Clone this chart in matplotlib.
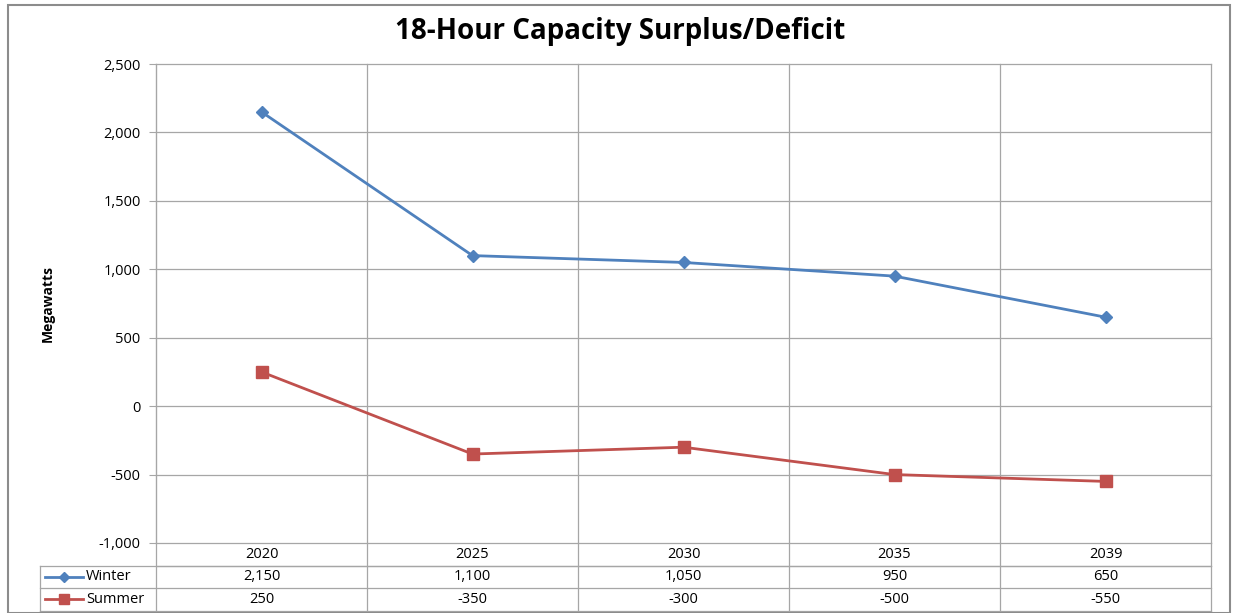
import matplotlib

matplotlib.use("Agg")

import matplotlib.pyplot as plt
import matplotlib.transforms as mtransforms
from matplotlib.lines import Line2D
from matplotlib.patches import Rectangle

years = ["2020", "2025", "2030", "2035", "2039"]
winter = [2150, 1100, 1050, 950, 650]
summer = [250, -350, -300, -500, -550]
y_ticks = [-1000, -500, 0, 500, 1000, 1500, 2000, 2500]

WINTER_COLOR = "#4F81BD"
SUMMER_COLOR = "#C0504D"
GRID_COLOR = "#A6A6A6"
FS = 10.5

plt.rcParams["font.family"] = ["Open Sans", "DejaVu Sans"]

fig = plt.figure(figsize=(12.33, 6.13), dpi=100)
ax = fig.add_axes([156 / 1233, 1 - 543 / 613, (1211 - 156) / 1233, (543 - 64) / 613])

xs = [i + 0.5 for i in range(len(years))]
ax.plot(xs, winter, color=WINTER_COLOR, lw=2, marker="D", ms=6.5, zorder=3)
ax.plot(xs, summer, color=SUMMER_COLOR, lw=2, marker="s", ms=9, zorder=3)

ax.set_xlim(0, len(years))
ax.set_ylim(-1000, 2500)
ax.set_yticks(y_ticks)
ax.set_yticklabels([f"{v:,}" for v in y_ticks], fontsize=FS)
ax.tick_params(axis="y", length=5, color=GRID_COLOR, pad=6)
ax.set_xticks(range(len(years) + 1))
ax.tick_params(axis="x", length=0, labelbottom=False)
ax.grid(True, color=GRID_COLOR, lw=0.9)
for gl in ax.get_xgridlines() + ax.get_ygridlines():
    gl.set_clip_on(False)
for side in ["top", "right", "bottom"]:
    ax.spines[side].set_visible(False)
ax.spines["left"].set_color(GRID_COLOR)
ax.set_axisbelow(True)

ax.set_ylabel("Megawatts", fontsize=10, fontweight="bold")
ax.yaxis.set_label_coords(-0.096, 0.5)

# data table under the plot
trans = mtransforms.blended_transform_factory(ax.transData, ax.transAxes)
row_h = 22.5 / 479
left_x = (40 - 156) / 211
n = len(years)
line_kw = dict(color=GRID_COLOR, lw=0.9, transform=trans, clip_on=False)

ax.add_line(Line2D([0, n], [-row_h, -row_h], **line_kw))
for k in (1, 2, 3):
    ax.add_line(Line2D([left_x, n], [-row_h * k, -row_h * k], **line_kw))
ax.add_line(Line2D([left_x, left_x], [-row_h, -row_h * 3], **line_kw))
for i in range(n + 1):
    ax.add_line(Line2D([i, i], [0, -row_h * 3], **line_kw))

for i, yr in enumerate(years):
    ax.text(i + 0.5, -row_h * 0.5, yr, transform=trans, ha="center", va="center", fontsize=FS)
    ax.text(i + 0.5, -row_h * 1.5, f"{winter[i]:,}", transform=trans, ha="center", va="center", fontsize=FS)
    ax.text(i + 0.5, -row_h * 2.5, f"{summer[i]:,}", transform=trans, ha="center", va="center", fontsize=FS)

key_x0 = (45 - 156) / 211
key_x1 = (83 - 156) / 211
for k, (name, color, marker, ms) in enumerate(
    [("Winter", WINTER_COLOR, "D", 5), ("Summer", SUMMER_COLOR, "s", 7)]
):
    yk = -row_h * (1.5 + k)
    ax.add_line(Line2D([key_x0, key_x1], [yk, yk], color=color, lw=2, transform=trans, clip_on=False))
    ax.add_line(Line2D([(key_x0 + key_x1) / 2], [yk], color=color, marker=marker, ms=ms,
                       transform=trans, clip_on=False))
    ax.text((86 - 156) / 211, yk, name, transform=trans, ha="left", va="center", fontsize=FS)

fig.suptitle("18-Hour Capacity Surplus/Deficit", x=620 / 1233, y=1 - 32 / 613,
             va="center", fontsize=20, fontweight="bold")

fig.patches.append(Rectangle((8 / 1233, 0), (1230 - 8) / 1233, 1 - 5 / 613,
                             transform=fig.transFigure, fill=False,
                             edgecolor="#8C8C8C", lw=1.5))

fig.savefig("out.png", dpi=100)
